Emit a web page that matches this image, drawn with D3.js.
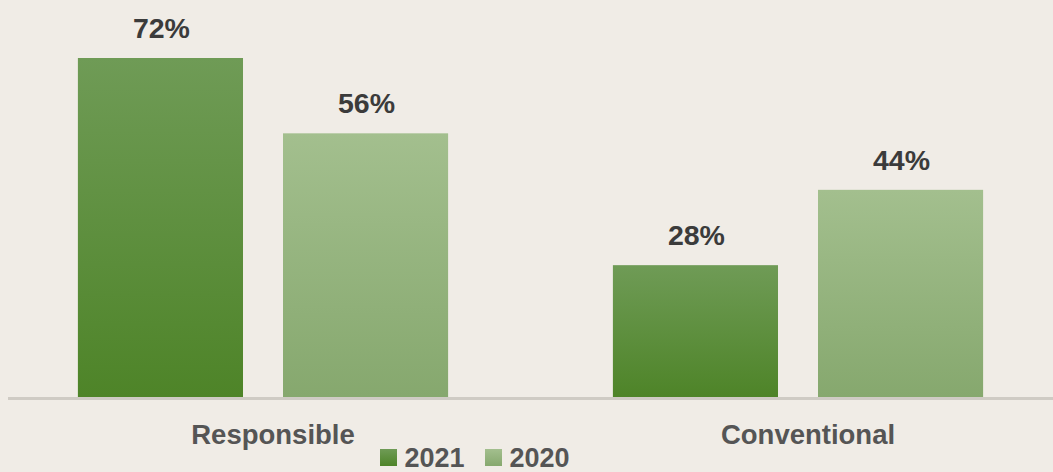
<!DOCTYPE html>
<html>
<head>
<meta charset="utf-8">
<script src="https://cdn.jsdelivr.net/npm/d3@7"></script>
<style>
  html, body { margin: 0; padding: 0; background: #f0ece6; }
  svg { display: block; }
  text { font-family: "Liberation Sans", Arial, Helvetica, sans-serif; font-weight: bold; }
</style>
</head>
<body>
<svg id="chart" width="1053" height="472"></svg>
<script>
// Share of respondents by approach, two survey years
const categories = ["Responsible", "Conventional"];
const seriesNames = ["2021", "2020"];
const values2021 = [72, 28];
const values2020 = [56, 44];

const seriesValues = { "2021": values2021, "2020": values2020 };
const rows = categories.map((c, i) => ({
  category: c,
  bars: seriesNames.map(s => ({ series: s, value: seriesValues[s][i] }))
}));

const W = 1053, H = 472;
const baseline = 397;

const svg = d3.select("#chart");
svg.append("rect").attr("width", W).attr("height", H).attr("fill", "#f0ece6");

// Vertical fades for each series
const defs = svg.append("defs");
const grads = {
  "2021": ["#6f9b56", "#4e8428"],
  "2020": ["#a3bf8e", "#86a86e"]
};
Object.entries(grads).forEach(([k, [top, bottom]]) => {
  const g = defs.append("linearGradient")
    .attr("id", "grad" + k)
    .attr("x1", 0).attr("y1", 0).attr("x2", 0).attr("y2", 1);
  g.append("stop").attr("offset", "0%").attr("stop-color", top);
  g.append("stop").attr("offset", "100%").attr("stop-color", bottom);
});

const x0 = d3.scaleBand()
  .domain(categories)
  .range([-4.5, 1065.5])
  .paddingInner(0.308)
  .paddingOuter(0.154);

const x1 = d3.scaleBand()
  .domain(seriesNames)
  .range([0, x0.bandwidth()])
  .paddingInner(0.195)
  .paddingOuter(0);

const y = d3.scaleLinear()
  .domain([0, 72])
  .range([baseline, 58]);

// Bars
const groups = svg.selectAll("g.group")
  .data(rows)
  .join("g")
  .attr("class", "group")
  .attr("transform", d => `translate(${x0(d.category)},0)`);

groups.selectAll("rect")
  .data(d => d.bars)
  .join("rect")
  .attr("x", d => x1(d.series))
  .attr("y", d => y(d.value))
  .attr("width", x1.bandwidth())
  .attr("height", d => y(0) - y(d.value))
  .attr("fill", d => `url(#grad${d.series})`);

// Value labels
groups.selectAll("text.value")
  .data(d => d.bars)
  .join("text")
  .attr("class", "value")
  .attr("x", d => x1(d.series) + x1.bandwidth() / 2 + 1)
  .attr("y", d => y(d.value) - 20)
  .attr("text-anchor", "middle")
  .attr("font-size", 28.5)
  .attr("fill", "#3b3b3b")
  .text(d => d.value + "%");

// Baseline axis
const xAxis = d3.axisBottom(x0).tickSize(0).tickPadding(0);
const axisG = svg.append("g")
  .attr("transform", `translate(0,${baseline})`)
  .call(xAxis);
axisG.select(".domain").remove();
axisG.insert("line", ":first-child")
  .attr("x1", 8).attr("x2", W)
  .attr("y1", 1.5).attr("y2", 1.5)
  .attr("stroke", "#cfcbc4")
  .attr("stroke-width", 3);
axisG.selectAll(".tick text")
  .attr("dy", null)
  .attr("y", 47)
  .attr("x", 10)
  .attr("font-size", 27.5)
  .attr("font-family", "\"Liberation Sans\", Arial, sans-serif")
  .attr("font-weight", "bold")
  .attr("fill", "#555555");

// Legend
const legendX = [380, 485];
const legend = svg.selectAll("g.legend")
  .data(seriesNames)
  .join("g")
  .attr("class", "legend")
  .attr("transform", (d, i) => `translate(${legendX[i]},449)`);
legend.append("rect")
  .attr("width", 17).attr("height", 17)
  .attr("fill", d => `url(#grad${d})`);
legend.append("text")
  .attr("x", 24.5)
  .attr("y", 17.5)
  .attr("font-size", 27)
  .attr("fill", "#555555")
  .text(d => d);
</script>
</body>
</html>
